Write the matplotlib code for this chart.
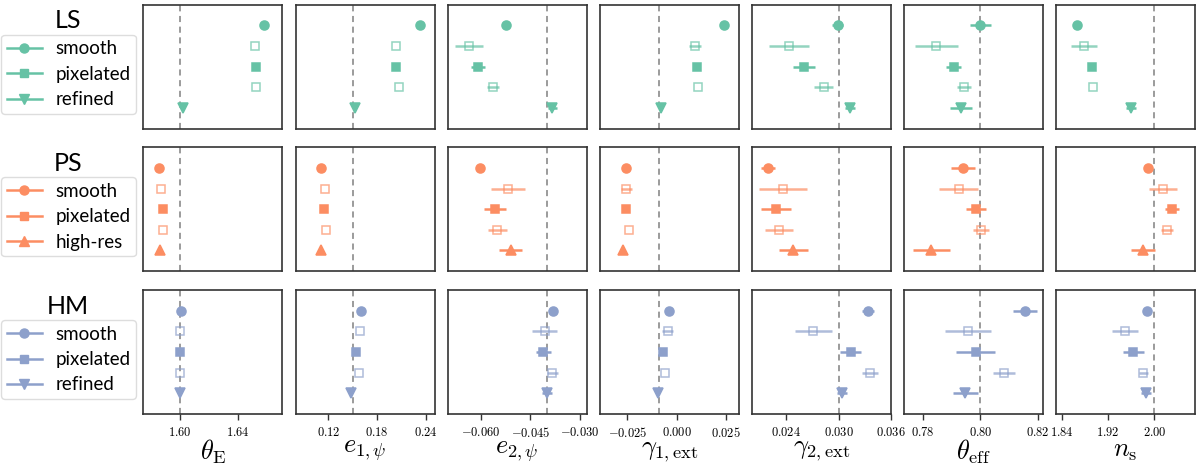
import matplotlib
matplotlib.use("Agg")
from matplotlib import pyplot as plt
from matplotlib.lines import Line2D
from matplotlib.ticker import FixedLocator, FuncFormatter

plt.rcParams["mathtext.fontset"] = "cm"
plt.rcParams["font.family"] = ["Lato", "DejaVu Sans"]

# parameter columns
labels = [r"$\theta_{\rm E}$", r"$e_{1,\psi}$", r"$e_{2,\psi}$", r"$\gamma_{1,{\rm ext}}$",
          r"$\gamma_{2,{\rm ext}}$", r"$\theta_{\rm eff}$", r"$n_{\rm s}$"]
truths = [1.60, 0.15, -0.040, -0.009, 0.030, 0.80, 2.00]
xlims = [(1.5748, 1.6702), (0.0795, 0.2512), (-0.0701, -0.0280), (-0.039, 0.0318),
         (0.020, 0.036), (0.7735, 0.8217), (1.830, 2.070)]
ticks = [[1.60, 1.64], [0.12, 0.18, 0.24], [-0.060, -0.045, -0.030], [-0.025, 0.000, 0.025],
         [0.024, 0.030, 0.036], [0.78, 0.80, 0.82], [1.84, 1.92, 2.00]]
decimals = [2, 2, 3, 3, 3, 2, 2]

# rows of fits: smooth, open square, pixelated, open square, refined / high-res
ls_vals = [[1.6578, 1.6515, 1.6524, 1.6522, 1.6018],
           [0.2327, 0.2032, 0.2032, 0.2070, 0.1532],
           [-0.0525, -0.0635, -0.0609, -0.0564, -0.0384],
           [0.0242, 0.0094, 0.0102, 0.0111, -0.0077],
           [0.0299, 0.0243, 0.0260, 0.0283, 0.0313],
           [0.8000, 0.7847, 0.7907, 0.7944, 0.7933],
           [1.8670, 1.8785, 1.8924, 1.8946, 1.9592]]
ls_errs = [[0, 0, 0, 0, 0],
           [0, 0, 0, 0, 0],
           [0, 0.0042, 0.0021, 0.0018, 0.0014],
           [0, 0.0032, 0, 0, 0],
           [0.0006, 0.0023, 0.0013, 0.0011, 0.0006],
           [0.0036, 0.0074, 0.0026, 0.0024, 0.0038],
           [0, 0.0225, 0, 0, 0.0086]]

ps_vals = [[1.5854, 1.5872, 1.5881, 1.5885, 1.5865],
           [0.1109, 0.1159, 0.1147, 0.1168, 0.1106],
           [-0.0602, -0.0517, -0.0557, -0.0550, -0.0510],
           [-0.0256, -0.0256, -0.0256, -0.0243, -0.0271],
           [0.0219, 0.0236, 0.0228, 0.0231, 0.0248],
           [0.7940, 0.7925, 0.7985, 0.8003, 0.7829],
           [1.9886, 2.0145, 2.0301, 2.0214, 1.9800]]
ps_errs = [[0, 0, 0, 0, 0],
           [0, 0, 0, 0, 0],
           [0, 0.0052, 0.0032, 0.0028, 0.0035],
           [0, 0.0028, 0, 0, 0.0010],
           [0.0008, 0.0028, 0.0017, 0.0016, 0.0017],
           [0.0042, 0.0068, 0.0034, 0.0028, 0.0064],
           [0.0050, 0.0237, 0.0121, 0.0098, 0.0202]]

hm_vals = [[1.6008, 1.5998, 1.5998, 1.6000, 1.5997],
           [0.1602, 0.1585, 0.1544, 0.1581, 0.1482],
           [-0.0381, -0.0406, -0.0411, -0.0383, -0.0401],
           [-0.0038, -0.0046, -0.0067, -0.0058, -0.0097],
           [0.0334, 0.0271, 0.0314, 0.0336, 0.0304],
           [0.8154, 0.7956, 0.7983, 0.8081, 0.7948],
           [1.9879, 1.9499, 1.9637, 1.9810, 1.9851]]
hm_errs = [[0, 0, 0, 0, 0],
           [0, 0, 0, 0, 0],
           [0, 0.0038, 0.0022, 0.0018, 0.0015],
           [0, 0.0026, 0, 0, 0],
           [0.0007, 0.0021, 0.0012, 0.0009, 0.0006],
           [0.0042, 0.0079, 0.0066, 0.0038, 0.0042],
           [0.0069, 0.0225, 0.0181, 0.0081, 0.0086]]

models = ["LS", "PS", "HM"]
colors = ["#66c2a5", "#fc8d62", "#8da0cb"]
markers = [["o", "s", "s", "s", "v"], ["o", "s", "s", "s", "^"], ["o", "s", "s", "s", "v"]]
legend_names = [["smooth", "pixelated", "refined"],
                ["smooth", "pixelated", "high-res"],
                ["smooth", "pixelated", "refined"]]
all_vals = [ls_vals, ps_vals, hm_vals]
all_errs = [ls_errs, ps_errs, hm_errs]

W, H = 1200, 467
fig = plt.figure(figsize=(W / 100, H / 100), dpi=100)

col_left = [143.3, 295.7, 447.5, 600.0, 751.7, 904.0, 1056.0]
row_top = [4.7, 147.3, 290.0]
ax_w, ax_h = 139.0, 123.8
sizes = {"o": 6.5, "s": 6.0, "v": 7.0, "^": 7.0}

for r in range(3):
    for c in range(7):
        ax = fig.add_axes([col_left[c] / W, 1 - (row_top[r] + ax_h) / H, ax_w / W, ax_h / H])
        ax.axvline(truths[c], color="gray", ls=(0, (4, 3)), lw=1.1, zorder=1)
        for k in range(5):
            hollow = k in (1, 3)
            m = markers[r][k]
            ax.errorbar(all_vals[r][c][k], k + 1, xerr=all_errs[r][c][k],
                        fmt=m, color=colors[r], ms=sizes[m],
                        mfc="none" if hollow else colors[r], mew=1.1,
                        elinewidth=1.8, capsize=0, alpha=0.7 if hollow else 1.0, zorder=3)
        ax.set_ylim(6, 0)
        ax.set_yticks([])
        ax.set_xlim(*xlims[c])
        for sp in ax.spines.values():
            sp.set_color("#333333")
            sp.set_linewidth(1.2)
        if r == 2:
            ax.xaxis.set_major_locator(FixedLocator(ticks[c]))
            ax.xaxis.set_major_formatter(FuncFormatter(lambda v, p, d=decimals[c]: "$%.*f$" % (d, v)))
            ax.tick_params(axis="x", labelsize=9, length=4, width=1, color="#333333", pad=4)
            ax.set_xlabel(labels[c], fontsize=19, labelpad=0)
        else:
            ax.set_xticks([])

    handles = [Line2D([], [], color=colors[r], marker=markers[r][k], ms=sizes[markers[r][k]], lw=1.8)
               for k in (0, 2, 4)]
    fig.text(68 / W, 1 - (row_top[r] + 16) / H, models[r], fontsize=18, ha="center", va="center")
    fig.legend(handles, legend_names[r], loc="upper left",
               bbox_to_anchor=(1 / W, 1 - (row_top[r] + 30) / H),
               fontsize=13.5, handlelength=1.9, handletextpad=0.7, labelspacing=0.45,
               borderpad=0.3, borderaxespad=0, frameon=True, framealpha=1,
               edgecolor="#dddddd", fancybox=True)

fig.savefig("out.png", dpi=100)
